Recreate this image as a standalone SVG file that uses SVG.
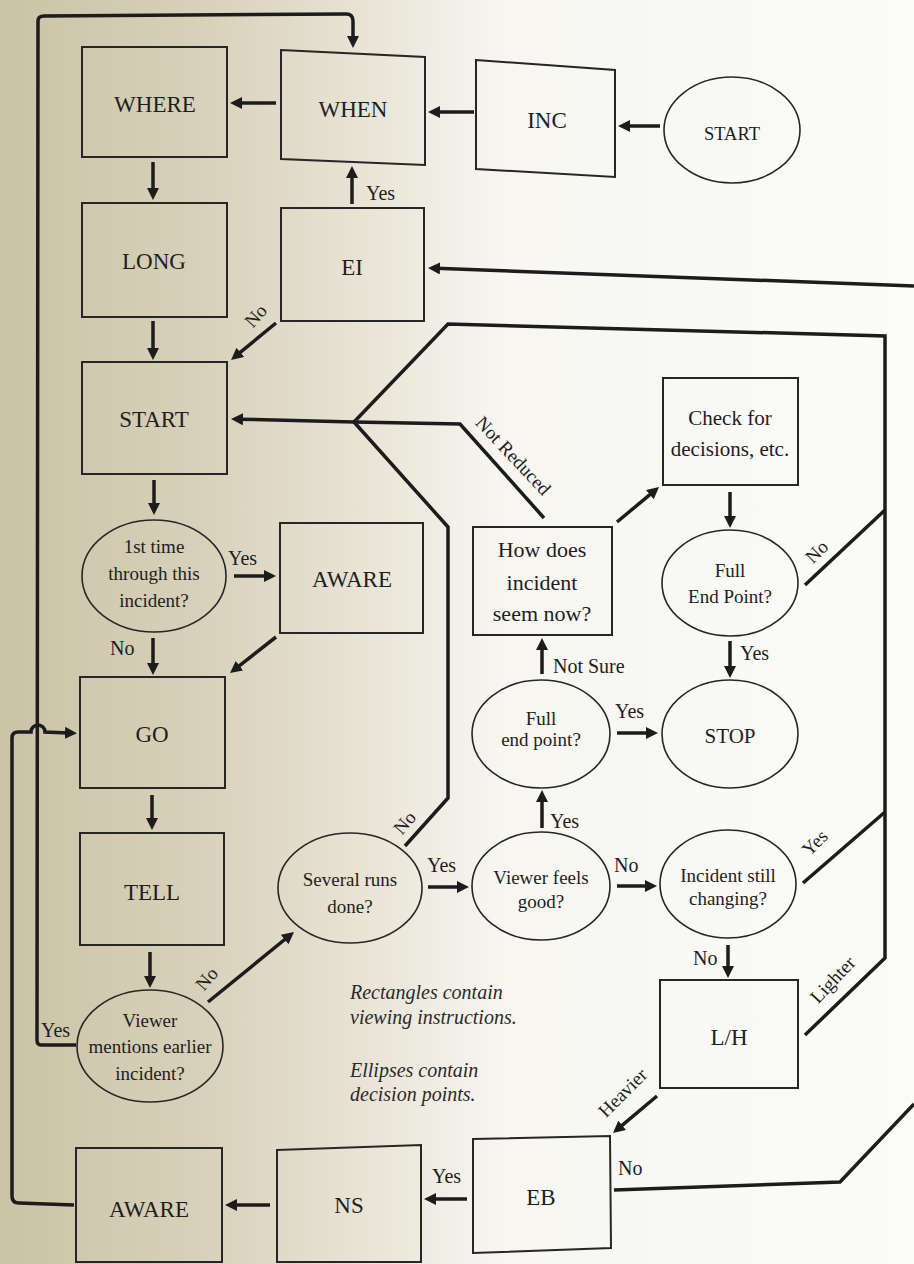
<svg xmlns="http://www.w3.org/2000/svg" width="914" height="1264" viewBox="0 0 914 1264">
<defs>
<linearGradient id="paper" x1="0" y1="0" x2="914" y2="0" gradientUnits="userSpaceOnUse">
<stop offset="0" stop-color="#cbc3a6"/>
<stop offset="0.22" stop-color="#d8d1ba"/>
<stop offset="0.42" stop-color="#eae6d9"/>
<stop offset="0.55" stop-color="#f7f6f1"/>
<stop offset="1" stop-color="#fbfbf8"/>
</linearGradient>
<marker id="ah" viewBox="0 0 12 12" refX="4" refY="6" markerWidth="12" markerHeight="12" markerUnits="userSpaceOnUse" orient="auto">
<path d="M0,0 L12,6 L0,12 z" fill="#1c1c1c"/>
</marker>
<style>
.box{fill:none;stroke:#262626;stroke-width:2}
.ell{fill:none;stroke:#262626;stroke-width:1.6}
.t{font-family:"Liberation Serif","Times New Roman",serif;fill:#1e1e1e;text-anchor:middle}
.big{font-size:23px}
.mid{font-size:19px}
.lg{font-size:21px}
.lab{font-family:"Liberation Serif","Times New Roman",serif;fill:#1e1e1e;font-size:20px}
.rl{font-family:"Liberation Serif","Times New Roman",serif;fill:#1e1e1e;font-size:19px;text-anchor:middle}
.leg{font-family:"Liberation Serif","Times New Roman",serif;fill:#2a2a2a;font-size:20px;font-style:italic}
.c{fill:none;stroke:#1c1c1c;stroke-width:3.5;stroke-linejoin:miter}
.a{fill:none;stroke:#1c1c1c;stroke-width:3.5;marker-end:url(#ah)}
</style>
</defs>
<rect x="0" y="0" width="914" height="1264" fill="url(#paper)"/>

<g id="connectors">
<!-- straight arrows -->
<path class="a" d="M660,126 L626,126"/>
<path class="a" d="M474,112 L436,112"/>
<path class="a" d="M276,103 L238,103"/>
<path class="a" d="M153,162 L153,192"/>
<path class="a" d="M153,321 L153,352"/>
<path class="a" d="M352,204 L352,174"/>
<path class="a" d="M276,323 L237.2,354.9"/>
<path class="a" d="M914,286 L436,268.3"/>
<path class="a" d="M354,422 L239,419.2"/>
<path class="a" d="M154,480 L154,507"/>
<path class="a" d="M234,576 L268,576"/>
<path class="a" d="M153,638 L153,667"/>
<path class="a" d="M276,637 L236.3,668.1"/>
<path class="a" d="M152,795 L152,822"/>
<path class="a" d="M150,952 L150,980"/>
<path class="a" d="M208,1002 L287.8,937"/>
<path class="a" d="M428,887 L461,887"/>
<path class="a" d="M542,828 L542,798"/>
<path class="a" d="M617,886 L649,886"/>
<path class="a" d="M542,674 L542,646"/>
<path class="a" d="M617,733 L650,733"/>
<path class="a" d="M617,522 L652.9,492.1"/>
<path class="a" d="M730,492 L730,520"/>
<path class="a" d="M730,641 L730,670"/>
<path class="a" d="M728,945 L728,970"/>
<path class="a" d="M657,1096 L619.1,1127.9"/>
<path class="a" d="M467,1199 L432,1199"/>
<path class="a" d="M270,1205 L233,1205"/>
<!-- outer left loop: Viewer mentions (Yes) to WHEN -->
<path class="a" d="M76,1045 L41,1045 Q37,1045 37,1040 L38,21 Q38,16 44,16 L346,14 Q353,14 353,21 L353,40"/>
<!-- AWARE (bottom) back to GO with hop -->
<path class="a" d="M74,1205 L19,1203 Q12,1203 12,1196 L12,738 Q12,732 18,732 L31,732 A7,7 0 0 1 45,732 L69,733"/>
<!-- inner right loop to START -->
<path class="c" d="M354,422 L448,324 L885,336 L885,958 L805,1035"/>
<path class="c" d="M805,585 L885,510"/>
<path class="c" d="M803,883 L885,812"/>
<path class="c" d="M354,422 L460,424 L544,518"/>
<path class="c" d="M354,422 L448,527 L448,798 L405,846"/>
<!-- EB No to outer right loop -->
<path class="c" d="M614,1190 L840,1182 L914,1104"/>
</g>

<g id="n-where"><rect class="box" x="82" y="47" width="145" height="110"/><text class="t big" x="155" y="112">WHERE</text></g>
<g id="n-when"><polygon class="box" points="281,50 425,57 425,165 281,159"/><text class="t big" x="353" y="117">WHEN</text></g>
<g id="n-inc"><polygon class="box" points="476,60 615,70 615,177 476,169"/><text class="t big" x="547" y="128">INC</text></g>
<g id="n-start-e"><ellipse class="ell" cx="732" cy="130" rx="68" ry="53"/><text class="t" style="font-size:18.5px" x="732" y="140">START</text></g>
<g id="n-long"><rect class="box" x="82" y="203" width="145" height="114"/><text class="t big" x="154" y="269">LONG</text></g>
<g id="n-ei"><rect class="box" x="281" y="208" width="143" height="113"/><text class="t big" x="352" y="275">EI</text></g>
<g id="n-start"><rect class="box" x="82" y="362" width="145" height="112"/><text class="t big" x="154" y="427">START</text></g>
<g id="n-first"><ellipse class="ell" cx="154" cy="576" rx="72" ry="56"/>
<text class="t mid" x="154" y="553">1st time</text><text class="t mid" x="154" y="580">through this</text><text class="t mid" x="154" y="607">incident?</text></g>
<g id="n-aware1"><rect class="box" x="280" y="523" width="143" height="110"/><text class="t big" x="352" y="587">AWARE</text></g>
<g id="n-go"><rect class="box" x="80" y="677" width="145" height="111"/><text class="t big" x="152" y="742">GO</text></g>
<g id="n-tell"><rect class="box" x="80" y="833" width="144" height="112"/><text class="t big" x="152" y="900">TELL</text></g>
<g id="n-viewer"><ellipse class="ell" cx="150" cy="1046" rx="73" ry="56"/>
<text class="t mid" x="150" y="1027">Viewer</text><text class="t mid" x="150" y="1053">mentions earlier</text><text class="t mid" x="150" y="1080">incident?</text></g>
<g id="n-several"><ellipse class="ell" cx="350" cy="888" rx="72" ry="55"/>
<text class="t mid" x="350" y="886">Several runs</text><text class="t mid" x="350" y="913">done?</text></g>
<g id="n-feels"><ellipse class="ell" cx="541" cy="886" rx="69" ry="54"/>
<text class="t mid" x="541" y="884">Viewer feels</text><text class="t mid" x="541" y="908">good?</text></g>
<g id="n-changing"><ellipse class="ell" cx="728" cy="884" rx="68" ry="54"/>
<text class="t mid" x="728" y="882">Incident still</text><text class="t mid" x="728" y="905">changing?</text></g>
<g id="n-lh"><rect class="box" x="660" y="980" width="138" height="108"/><text class="t big" x="729" y="1045">L/H</text></g>
<g id="n-eb"><polygon class="box" points="473,1139 610,1136 611,1248 473,1253"/><text class="t big" x="541" y="1205">EB</text></g>
<g id="n-ns"><polygon class="box" points="277,1150 421,1145 421,1262 277,1262"/><text class="t big" x="349" y="1213">NS</text></g>
<g id="n-aware2"><rect class="box" x="76" y="1148" width="146" height="114"/><text class="t big" x="149" y="1217">AWARE</text></g>
<g id="n-how"><rect class="box" x="473" y="527" width="139" height="108"/>
<text class="t" style="font-size:22px" x="542" y="557">How does</text><text class="t" style="font-size:22px" x="542" y="590">incident</text><text class="t" style="font-size:22px" x="542" y="621">seem now?</text></g>
<g id="n-check"><rect class="box" x="663" y="378" width="135" height="107"/>
<text class="t lg" x="730" y="425">Check for</text><text class="t lg" x="730" y="456">decisions, etc.</text></g>
<g id="n-fullend"><ellipse class="ell" cx="730" cy="583" rx="68" ry="53"/>
<text class="t mid" x="730" y="577">Full</text><text class="t mid" x="730" y="603">End Point?</text></g>
<g id="n-stop"><ellipse class="ell" cx="730" cy="734" rx="68" ry="54"/><text class="t lg" x="730" y="743">STOP</text></g>
<g id="n-fullend2"><ellipse class="ell" cx="541" cy="734" rx="69" ry="54"/>
<text class="t mid" x="541" y="725">Full</text><text class="t mid" x="541" y="746">end point?</text></g>

<g id="labels">
<text class="lab" x="366" y="200">Yes</text>
<text class="rl" x="256" y="322" transform="rotate(-48 256 316)">No</text>
<text class="lab" x="228" y="565">Yes</text>
<text class="lab" x="110" y="655">No</text>
<text class="lab" x="41" y="1037">Yes</text>
<text class="rl" x="207" y="985" transform="rotate(-50 207 979)">No</text>
<text class="rl" x="405" y="829" transform="rotate(-50 405 823)">No</text>
<text class="lab" x="427" y="872">Yes</text>
<text class="lab" x="550" y="828">Yes</text>
<text class="lab" x="614" y="872">No</text>
<text class="lab" x="553" y="673">Not Sure</text>
<text class="lab" x="615" y="718">Yes</text>
<text class="lab" x="740" y="660">Yes</text>
<text class="rl" x="817" y="558" transform="rotate(-45 817 552)">No</text>
<text class="rl" x="815" y="849" transform="rotate(-45 815 843)">Yes</text>
<text class="lab" x="693" y="965">No</text>
<text class="rl" x="833" y="986" transform="rotate(-47 833 980)">Lighter</text>
<text class="rl" x="623" y="1099" transform="rotate(-45 623 1093)">Heavier</text>
<text class="lab" x="618" y="1175">No</text>
<text class="lab" x="432" y="1183">Yes</text>
<text class="rl" x="513" y="462" transform="rotate(47 513 456)">Not Reduced</text>
</g>

<g id="legend">
<text class="leg" x="350" y="999">Rectangles contain</text>
<text class="leg" x="350" y="1024">viewing instructions.</text>
<text class="leg" x="350" y="1077">Ellipses contain</text>
<text class="leg" x="350" y="1101">decision points.</text>
</g>
</svg>
